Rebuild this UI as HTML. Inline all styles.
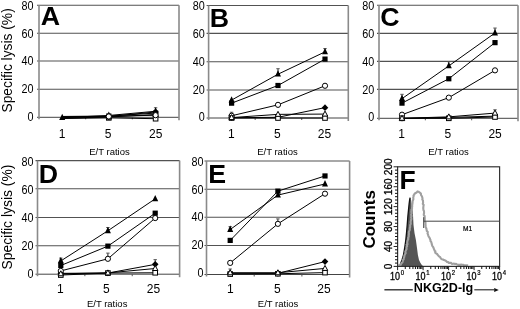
<!DOCTYPE html><html><head><meta charset="utf-8"><style>html,body{margin:0;padding:0;background:#fff;}svg{display:block;filter:blur(0.35px);}</style></head><body>
<svg width="520" height="309" viewBox="0 0 520 309" font-family='"Liberation Sans", sans-serif'>
<rect width="520" height="309" fill="#fff"/>
<line x1="37.00" y1="5.30" x2="179.00" y2="5.30" stroke="#525252" stroke-width="1.1"/>
<line x1="37.00" y1="33.20" x2="179.00" y2="33.20" stroke="#525252" stroke-width="1.1"/>
<line x1="37.00" y1="61.00" x2="179.00" y2="61.00" stroke="#525252" stroke-width="1.1"/>
<line x1="37.00" y1="89.20" x2="179.00" y2="89.20" stroke="#525252" stroke-width="1.1"/>
<line x1="37.00" y1="117.30" x2="179.00" y2="117.30" stroke="#444" stroke-width="1"/>
<line x1="85.67" y1="117.30" x2="85.67" y2="119.30" stroke="#555" stroke-width="1"/>
<line x1="132.33" y1="117.30" x2="132.33" y2="119.30" stroke="#555" stroke-width="1"/>
<line x1="39.00" y1="5.30" x2="39.00" y2="119.30" stroke="#8a8a8a" stroke-width="1.6"/>
<line x1="179.00" y1="5.30" x2="179.00" y2="120.30" stroke="#8a8a8a" stroke-width="1.6"/>
<text transform="translate(33.40,9.65) scale(0.9,1)" font-size="12" text-anchor="end">80</text>
<text transform="translate(33.40,37.50) scale(0.9,1)" font-size="12" text-anchor="end">60</text>
<text transform="translate(33.40,65.35) scale(0.9,1)" font-size="12" text-anchor="end">40</text>
<text transform="translate(33.40,93.20) scale(0.9,1)" font-size="12" text-anchor="end">20</text>
<text transform="translate(33.40,121.05) scale(0.9,1)" font-size="12" text-anchor="end">0</text>
<text x="62.00" y="137.60" font-size="12" text-anchor="middle">1</text>
<text x="108.10" y="137.60" font-size="12" text-anchor="middle">5</text>
<text x="155.70" y="137.60" font-size="12" text-anchor="middle">25</text>
<text x="109.50" y="154.50" font-size="9.5" text-anchor="middle">E/T ratios</text>
<text transform="translate(50.30,25.00) scale(1.07,1)" font-size="25" font-weight="bold" text-anchor="middle">A</text>
<polyline points="62.20,117.72 108.80,115.47 155.60,111.26" fill="none" stroke="#000" stroke-width="1"/>
<polyline points="62.20,116.46 108.80,116.04 155.60,113.08" fill="none" stroke="#000" stroke-width="1"/>
<polyline points="62.20,116.88 108.80,116.46 155.60,115.19" fill="none" stroke="#000" stroke-width="1"/>
<polyline points="62.20,117.02 108.80,116.60 155.60,111.96" fill="none" stroke="#000" stroke-width="1"/>
<polyline points="62.20,118.14 108.80,117.02 155.60,114.49" fill="none" stroke="#000" stroke-width="1"/>
<polyline points="62.20,118.56 108.80,117.86 155.60,118.70" fill="none" stroke="#000" stroke-width="1"/>
<line x1="155.60" y1="111.26" x2="155.60" y2="107.75" stroke="#222" stroke-width="1"/>
<line x1="153.90" y1="107.75" x2="157.30" y2="107.75" stroke="#555" stroke-width="1"/>
<rect x="106.50" y="115.56" width="4.6" height="4.6" fill="#fff" stroke="#000" stroke-width="1"/>
<rect x="153.30" y="116.41" width="4.6" height="4.6" fill="#fff" stroke="#000" stroke-width="1"/>
<path d="M108.80 114.02L106.10 119.02L111.50 119.02Z" fill="#fff" stroke="#000" stroke-width="1"/>
<path d="M155.60 111.49L152.90 116.49L158.30 116.49Z" fill="#fff" stroke="#000" stroke-width="1"/>
<path d="M108.80 113.30L112.10 116.60L108.80 119.90L105.50 116.60Z" fill="#000"/>
<path d="M155.60 108.66L158.90 111.96L155.60 115.26L152.30 111.96Z" fill="#000"/>
<rect x="106.20" y="113.44" width="5.2" height="5.2" fill="#000"/>
<rect x="153.00" y="110.48" width="5.2" height="5.2" fill="#000"/>
<path d="M62.20 113.82L59.20 120.12L65.20 120.12Z" fill="#000"/>
<path d="M108.80 111.57L105.80 117.87L111.80 117.87Z" fill="#000"/>
<path d="M155.60 107.36L152.60 113.66L158.60 113.66Z" fill="#000"/>
<circle cx="108.80" cy="116.46" r="2.6" fill="#fff" stroke="#000" stroke-width="1"/>
<circle cx="155.60" cy="115.19" r="2.6" fill="#fff" stroke="#000" stroke-width="1"/>
<line x1="206.60" y1="5.50" x2="348.30" y2="5.50" stroke="#525252" stroke-width="1.1"/>
<line x1="206.60" y1="33.40" x2="348.30" y2="33.40" stroke="#525252" stroke-width="1.1"/>
<line x1="206.60" y1="61.80" x2="348.30" y2="61.80" stroke="#525252" stroke-width="1.1"/>
<line x1="206.60" y1="90.00" x2="348.30" y2="90.00" stroke="#525252" stroke-width="1.1"/>
<line x1="206.60" y1="118.00" x2="348.30" y2="118.00" stroke="#444" stroke-width="1"/>
<line x1="255.17" y1="118.00" x2="255.17" y2="120.00" stroke="#555" stroke-width="1"/>
<line x1="301.73" y1="118.00" x2="301.73" y2="120.00" stroke="#555" stroke-width="1"/>
<line x1="208.60" y1="5.50" x2="208.60" y2="120.00" stroke="#8a8a8a" stroke-width="1.6"/>
<line x1="348.30" y1="5.50" x2="348.30" y2="121.00" stroke="#8a8a8a" stroke-width="1.6"/>
<text transform="translate(204.80,9.80) scale(0.9,1)" font-size="12" text-anchor="end">80</text>
<text transform="translate(204.80,37.70) scale(0.9,1)" font-size="12" text-anchor="end">60</text>
<text transform="translate(204.80,65.60) scale(0.9,1)" font-size="12" text-anchor="end">40</text>
<text transform="translate(204.80,93.50) scale(0.9,1)" font-size="12" text-anchor="end">20</text>
<text transform="translate(204.80,121.40) scale(0.9,1)" font-size="12" text-anchor="end">0</text>
<text x="231.30" y="137.80" font-size="12" text-anchor="middle">1</text>
<text x="277.30" y="137.80" font-size="12" text-anchor="middle">5</text>
<text x="324.50" y="137.80" font-size="12" text-anchor="middle">25</text>
<text x="277.45" y="154.60" font-size="9.5" text-anchor="middle">E/T ratios</text>
<text transform="translate(219.40,26.80) scale(1.07,1)" font-size="25" font-weight="bold" text-anchor="middle">B</text>
<polyline points="231.60,100.08 278.00,74.21 325.00,51.86" fill="none" stroke="#000" stroke-width="1"/>
<polyline points="231.60,103.16 278.00,85.49 325.00,59.10" fill="none" stroke="#000" stroke-width="1"/>
<polyline points="231.60,115.76 278.00,104.84 325.00,85.77" fill="none" stroke="#000" stroke-width="1"/>
<polyline points="231.60,117.72 278.00,117.30 325.00,107.64" fill="none" stroke="#000" stroke-width="1"/>
<polyline points="231.60,117.58 278.00,114.36 325.00,114.08" fill="none" stroke="#000" stroke-width="1"/>
<polyline points="231.60,118.00 278.00,118.00 325.00,118.00" fill="none" stroke="#000" stroke-width="1"/>
<line x1="278.00" y1="74.21" x2="278.00" y2="68.71" stroke="#222" stroke-width="1"/>
<line x1="276.30" y1="68.71" x2="279.70" y2="68.71" stroke="#555" stroke-width="1"/>
<line x1="325.00" y1="51.86" x2="325.00" y2="48.59" stroke="#222" stroke-width="1"/>
<line x1="323.30" y1="48.59" x2="326.70" y2="48.59" stroke="#555" stroke-width="1"/>
<line x1="231.60" y1="115.76" x2="231.60" y2="112.26" stroke="#222" stroke-width="1"/>
<line x1="229.90" y1="112.26" x2="233.30" y2="112.26" stroke="#555" stroke-width="1"/>
<path d="M231.60 96.18L228.60 102.48L234.60 102.48Z" fill="#000"/>
<path d="M278.00 70.31L275.00 76.61L281.00 76.61Z" fill="#000"/>
<path d="M325.00 47.96L322.00 54.26L328.00 54.26Z" fill="#000"/>
<rect x="229.00" y="100.56" width="5.2" height="5.2" fill="#000"/>
<rect x="275.40" y="82.89" width="5.2" height="5.2" fill="#000"/>
<rect x="322.40" y="56.50" width="5.2" height="5.2" fill="#000"/>
<path d="M231.60 114.42L234.90 117.72L231.60 121.02L228.30 117.72Z" fill="#000"/>
<path d="M278.00 114.00L281.30 117.30L278.00 120.60L274.70 117.30Z" fill="#000"/>
<path d="M325.00 104.34L328.30 107.64L325.00 110.94L321.70 107.64Z" fill="#000"/>
<circle cx="231.60" cy="115.76" r="2.6" fill="#fff" stroke="#000" stroke-width="1"/>
<circle cx="278.00" cy="104.84" r="2.6" fill="#fff" stroke="#000" stroke-width="1"/>
<circle cx="325.00" cy="85.77" r="2.6" fill="#fff" stroke="#000" stroke-width="1"/>
<rect x="229.30" y="115.70" width="4.6" height="4.6" fill="#fff" stroke="#000" stroke-width="1"/>
<rect x="275.70" y="115.70" width="4.6" height="4.6" fill="#fff" stroke="#000" stroke-width="1"/>
<rect x="322.70" y="115.70" width="4.6" height="4.6" fill="#fff" stroke="#000" stroke-width="1"/>
<path d="M231.60 114.58L228.90 119.58L234.30 119.58Z" fill="#fff" stroke="#000" stroke-width="1"/>
<path d="M278.00 111.36L275.30 116.36L280.70 116.36Z" fill="#fff" stroke="#000" stroke-width="1"/>
<path d="M325.00 111.08L322.30 116.08L327.70 116.08Z" fill="#fff" stroke="#000" stroke-width="1"/>
<line x1="377.00" y1="5.30" x2="518.00" y2="5.30" stroke="#525252" stroke-width="1.1"/>
<line x1="377.00" y1="33.40" x2="518.00" y2="33.40" stroke="#525252" stroke-width="1.1"/>
<line x1="377.00" y1="61.40" x2="518.00" y2="61.40" stroke="#525252" stroke-width="1.1"/>
<line x1="377.00" y1="89.40" x2="518.00" y2="89.40" stroke="#525252" stroke-width="1.1"/>
<line x1="377.00" y1="118.30" x2="518.00" y2="118.30" stroke="#444" stroke-width="1"/>
<line x1="425.33" y1="118.30" x2="425.33" y2="120.30" stroke="#555" stroke-width="1"/>
<line x1="471.67" y1="118.30" x2="471.67" y2="120.30" stroke="#555" stroke-width="1"/>
<line x1="379.00" y1="5.30" x2="379.00" y2="120.30" stroke="#8a8a8a" stroke-width="1.6"/>
<line x1="518.00" y1="5.30" x2="518.00" y2="121.30" stroke="#8a8a8a" stroke-width="1.6"/>
<text transform="translate(374.30,9.80) scale(0.9,1)" font-size="12" text-anchor="end">80</text>
<text transform="translate(374.30,37.70) scale(0.9,1)" font-size="12" text-anchor="end">60</text>
<text transform="translate(374.30,65.60) scale(0.9,1)" font-size="12" text-anchor="end">40</text>
<text transform="translate(374.30,93.50) scale(0.9,1)" font-size="12" text-anchor="end">20</text>
<text transform="translate(374.30,121.40) scale(0.9,1)" font-size="12" text-anchor="end">0</text>
<text x="401.50" y="137.80" font-size="12" text-anchor="middle">1</text>
<text x="447.90" y="137.80" font-size="12" text-anchor="middle">5</text>
<text x="495.10" y="137.80" font-size="12" text-anchor="middle">25</text>
<text x="448.50" y="154.50" font-size="9.5" text-anchor="middle">E/T ratios</text>
<text transform="translate(389.90,26.40) scale(1.07,1)" font-size="25" font-weight="bold" text-anchor="middle">C</text>
<polyline points="402.00,98.65 448.80,65.88 495.00,32.98" fill="none" stroke="#000" stroke-width="1"/>
<polyline points="402.00,103.13 448.80,78.76 495.00,42.64" fill="none" stroke="#000" stroke-width="1"/>
<polyline points="402.00,114.69 448.80,97.64 495.00,70.36" fill="none" stroke="#000" stroke-width="1"/>
<polyline points="402.00,118.30 448.80,117.43 495.00,116.13" fill="none" stroke="#000" stroke-width="1"/>
<polyline points="402.00,118.30 448.80,116.86 495.00,113.10" fill="none" stroke="#000" stroke-width="1"/>
<polyline points="402.00,118.30 448.80,118.30 495.00,117.00" fill="none" stroke="#000" stroke-width="1"/>
<line x1="402.00" y1="98.65" x2="402.00" y2="94.31" stroke="#222" stroke-width="1"/>
<line x1="400.30" y1="94.31" x2="403.70" y2="94.31" stroke="#555" stroke-width="1"/>
<line x1="448.80" y1="65.88" x2="448.80" y2="61.68" stroke="#222" stroke-width="1"/>
<line x1="447.10" y1="61.68" x2="450.50" y2="61.68" stroke="#555" stroke-width="1"/>
<line x1="495.00" y1="32.98" x2="495.00" y2="28.06" stroke="#222" stroke-width="1"/>
<line x1="493.30" y1="28.06" x2="496.70" y2="28.06" stroke="#555" stroke-width="1"/>
<line x1="495.00" y1="113.10" x2="495.00" y2="109.77" stroke="#222" stroke-width="1"/>
<line x1="493.30" y1="109.77" x2="496.70" y2="109.77" stroke="#555" stroke-width="1"/>
<path d="M402.00 94.75L399.00 101.05L405.00 101.05Z" fill="#000"/>
<path d="M448.80 61.98L445.80 68.28L451.80 68.28Z" fill="#000"/>
<path d="M495.00 29.08L492.00 35.38L498.00 35.38Z" fill="#000"/>
<rect x="399.40" y="100.53" width="5.2" height="5.2" fill="#000"/>
<rect x="446.20" y="76.16" width="5.2" height="5.2" fill="#000"/>
<rect x="492.40" y="40.04" width="5.2" height="5.2" fill="#000"/>
<path d="M402.00 115.00L405.30 118.30L402.00 121.60L398.70 118.30Z" fill="#000"/>
<path d="M448.80 114.13L452.10 117.43L448.80 120.73L445.50 117.43Z" fill="#000"/>
<path d="M495.00 112.83L498.30 116.13L495.00 119.43L491.70 116.13Z" fill="#000"/>
<circle cx="402.00" cy="114.69" r="2.6" fill="#fff" stroke="#000" stroke-width="1"/>
<circle cx="448.80" cy="97.64" r="2.6" fill="#fff" stroke="#000" stroke-width="1"/>
<circle cx="495.00" cy="70.36" r="2.6" fill="#fff" stroke="#000" stroke-width="1"/>
<rect x="399.70" y="116.00" width="4.6" height="4.6" fill="#fff" stroke="#000" stroke-width="1"/>
<rect x="446.50" y="116.00" width="4.6" height="4.6" fill="#fff" stroke="#000" stroke-width="1"/>
<rect x="492.70" y="114.70" width="4.6" height="4.6" fill="#fff" stroke="#000" stroke-width="1"/>
<path d="M402.00 115.30L399.30 120.30L404.70 120.30Z" fill="#fff" stroke="#000" stroke-width="1"/>
<path d="M448.80 113.86L446.10 118.86L451.50 118.86Z" fill="#fff" stroke="#000" stroke-width="1"/>
<path d="M495.00 110.10L492.30 115.10L497.70 115.10Z" fill="#fff" stroke="#000" stroke-width="1"/>
<line x1="35.50" y1="160.60" x2="179.60" y2="160.60" stroke="#525252" stroke-width="1.1"/>
<line x1="35.50" y1="188.80" x2="179.60" y2="188.80" stroke="#525252" stroke-width="1.1"/>
<line x1="35.50" y1="217.50" x2="179.60" y2="217.50" stroke="#525252" stroke-width="1.1"/>
<line x1="35.50" y1="245.70" x2="179.60" y2="245.70" stroke="#525252" stroke-width="1.1"/>
<line x1="35.50" y1="274.20" x2="179.60" y2="274.20" stroke="#444" stroke-width="1"/>
<line x1="84.87" y1="274.20" x2="84.87" y2="276.20" stroke="#555" stroke-width="1"/>
<line x1="132.23" y1="274.20" x2="132.23" y2="276.20" stroke="#555" stroke-width="1"/>
<line x1="37.50" y1="160.60" x2="37.50" y2="276.20" stroke="#8a8a8a" stroke-width="1.6"/>
<line x1="179.60" y1="160.60" x2="179.60" y2="277.20" stroke="#8a8a8a" stroke-width="1.6"/>
<text transform="translate(33.40,166.20) scale(0.9,1)" font-size="12" text-anchor="end">80</text>
<text transform="translate(33.40,194.10) scale(0.9,1)" font-size="12" text-anchor="end">60</text>
<text transform="translate(33.40,222.00) scale(0.9,1)" font-size="12" text-anchor="end">40</text>
<text transform="translate(33.40,249.90) scale(0.9,1)" font-size="12" text-anchor="end">20</text>
<text transform="translate(33.40,277.80) scale(0.9,1)" font-size="12" text-anchor="end">0</text>
<text x="60.40" y="292.80" font-size="12" text-anchor="middle">1</text>
<text x="106.40" y="292.80" font-size="12" text-anchor="middle">5</text>
<text x="153.40" y="292.80" font-size="12" text-anchor="middle">25</text>
<text x="107.15" y="306.90" font-size="9.5" text-anchor="middle">E/T ratios</text>
<text transform="translate(48.50,182.50) scale(1.07,1)" font-size="25" font-weight="bold" text-anchor="middle">D</text>
<polyline points="60.80,260.95 107.90,230.75 155.20,198.84" fill="none" stroke="#000" stroke-width="1"/>
<polyline points="60.80,265.51 107.90,246.13 155.20,213.19" fill="none" stroke="#000" stroke-width="1"/>
<polyline points="60.80,270.92 107.90,258.81 155.20,218.06" fill="none" stroke="#000" stroke-width="1"/>
<polyline points="60.80,273.34 107.90,273.06 155.20,264.37" fill="none" stroke="#000" stroke-width="1"/>
<polyline points="60.80,273.77 107.90,272.92 155.20,268.50" fill="none" stroke="#000" stroke-width="1"/>
<polyline points="60.80,275.06 107.90,273.06 155.20,272.77" fill="none" stroke="#000" stroke-width="1"/>
<line x1="60.80" y1="260.95" x2="60.80" y2="258.10" stroke="#222" stroke-width="1"/>
<line x1="59.10" y1="258.10" x2="62.50" y2="258.10" stroke="#555" stroke-width="1"/>
<line x1="107.90" y1="230.75" x2="107.90" y2="227.51" stroke="#222" stroke-width="1"/>
<line x1="106.20" y1="227.51" x2="109.60" y2="227.51" stroke="#555" stroke-width="1"/>
<line x1="107.90" y1="258.81" x2="107.90" y2="253.11" stroke="#222" stroke-width="1"/>
<line x1="106.20" y1="253.11" x2="109.60" y2="253.11" stroke="#555" stroke-width="1"/>
<line x1="155.20" y1="264.37" x2="155.20" y2="259.66" stroke="#222" stroke-width="1"/>
<line x1="153.50" y1="259.66" x2="156.90" y2="259.66" stroke="#555" stroke-width="1"/>
<path d="M60.80 257.05L57.80 263.35L63.80 263.35Z" fill="#000"/>
<path d="M107.90 226.85L104.90 233.15L110.90 233.15Z" fill="#000"/>
<path d="M155.20 194.94L152.20 201.25L158.20 201.25Z" fill="#000"/>
<rect x="58.20" y="262.91" width="5.2" height="5.2" fill="#000"/>
<rect x="105.30" y="243.53" width="5.2" height="5.2" fill="#000"/>
<rect x="152.60" y="210.59" width="5.2" height="5.2" fill="#000"/>
<path d="M60.80 270.04L64.10 273.34L60.80 276.64L57.50 273.34Z" fill="#000"/>
<path d="M107.90 269.76L111.20 273.06L107.90 276.36L104.60 273.06Z" fill="#000"/>
<path d="M155.20 261.07L158.50 264.37L155.20 267.67L151.90 264.37Z" fill="#000"/>
<circle cx="60.80" cy="270.92" r="2.6" fill="#fff" stroke="#000" stroke-width="1"/>
<circle cx="107.90" cy="258.81" r="2.6" fill="#fff" stroke="#000" stroke-width="1"/>
<circle cx="155.20" cy="218.06" r="2.6" fill="#fff" stroke="#000" stroke-width="1"/>
<rect x="58.50" y="272.75" width="4.6" height="4.6" fill="#fff" stroke="#000" stroke-width="1"/>
<rect x="105.60" y="270.76" width="4.6" height="4.6" fill="#fff" stroke="#000" stroke-width="1"/>
<rect x="152.90" y="270.47" width="4.6" height="4.6" fill="#fff" stroke="#000" stroke-width="1"/>
<path d="M60.80 270.77L58.10 275.77L63.50 275.77Z" fill="#fff" stroke="#000" stroke-width="1"/>
<path d="M107.90 269.92L105.20 274.92L110.60 274.92Z" fill="#fff" stroke="#000" stroke-width="1"/>
<path d="M155.20 265.50L152.50 270.50L157.90 270.50Z" fill="#fff" stroke="#000" stroke-width="1"/>
<line x1="204.50" y1="161.00" x2="349.60" y2="161.00" stroke="#525252" stroke-width="1.1"/>
<line x1="204.50" y1="189.20" x2="349.60" y2="189.20" stroke="#525252" stroke-width="1.1"/>
<line x1="204.50" y1="217.20" x2="349.60" y2="217.20" stroke="#525252" stroke-width="1.1"/>
<line x1="204.50" y1="245.50" x2="349.60" y2="245.50" stroke="#525252" stroke-width="1.1"/>
<line x1="204.50" y1="274.50" x2="349.60" y2="274.50" stroke="#444" stroke-width="1"/>
<line x1="254.20" y1="274.50" x2="254.20" y2="276.50" stroke="#555" stroke-width="1"/>
<line x1="301.90" y1="274.50" x2="301.90" y2="276.50" stroke="#555" stroke-width="1"/>
<line x1="206.50" y1="161.00" x2="206.50" y2="276.50" stroke="#8a8a8a" stroke-width="1.6"/>
<line x1="349.60" y1="161.00" x2="349.60" y2="277.50" stroke="#8a8a8a" stroke-width="1.6"/>
<text transform="translate(203.40,165.65) scale(0.9,1)" font-size="12" text-anchor="end">80</text>
<text transform="translate(203.40,193.50) scale(0.9,1)" font-size="12" text-anchor="end">60</text>
<text transform="translate(203.40,221.35) scale(0.9,1)" font-size="12" text-anchor="end">40</text>
<text transform="translate(203.40,249.20) scale(0.9,1)" font-size="12" text-anchor="end">20</text>
<text transform="translate(203.40,277.05) scale(0.9,1)" font-size="12" text-anchor="end">0</text>
<text x="230.40" y="292.80" font-size="12" text-anchor="middle">1</text>
<text x="277.30" y="292.80" font-size="12" text-anchor="middle">5</text>
<text x="323.90" y="292.80" font-size="12" text-anchor="middle">25</text>
<text x="278.05" y="306.90" font-size="9.5" text-anchor="middle">E/T ratios</text>
<text transform="translate(217.20,183.00) scale(1.07,1)" font-size="25" font-weight="bold" text-anchor="middle">E</text>
<polyline points="230.20,229.51 277.90,195.08 325.00,183.98" fill="none" stroke="#000" stroke-width="1"/>
<polyline points="230.20,240.41 277.90,191.16 325.00,175.95" fill="none" stroke="#000" stroke-width="1"/>
<polyline points="230.20,262.90 277.90,223.85 325.00,193.68" fill="none" stroke="#000" stroke-width="1"/>
<polyline points="230.20,273.34 277.90,273.34 325.00,261.60" fill="none" stroke="#000" stroke-width="1"/>
<polyline points="230.20,272.76 277.90,272.76 325.00,268.41" fill="none" stroke="#000" stroke-width="1"/>
<polyline points="230.20,274.06 277.90,273.77 325.00,272.62" fill="none" stroke="#000" stroke-width="1"/>
<line x1="230.20" y1="229.51" x2="230.20" y2="226.68" stroke="#222" stroke-width="1"/>
<line x1="228.50" y1="226.68" x2="231.90" y2="226.68" stroke="#555" stroke-width="1"/>
<line x1="277.90" y1="223.85" x2="277.90" y2="218.90" stroke="#222" stroke-width="1"/>
<line x1="276.20" y1="218.90" x2="279.60" y2="218.90" stroke="#555" stroke-width="1"/>
<line x1="230.20" y1="272.76" x2="230.20" y2="268.99" stroke="#222" stroke-width="1"/>
<line x1="228.50" y1="268.99" x2="231.90" y2="268.99" stroke="#555" stroke-width="1"/>
<path d="M230.20 225.61L227.20 231.91L233.20 231.91Z" fill="#000"/>
<path d="M277.90 191.18L274.90 197.48L280.90 197.48Z" fill="#000"/>
<path d="M325.00 180.08L322.00 186.38L328.00 186.38Z" fill="#000"/>
<rect x="227.60" y="237.81" width="5.2" height="5.2" fill="#000"/>
<rect x="275.30" y="188.56" width="5.2" height="5.2" fill="#000"/>
<rect x="322.40" y="173.35" width="5.2" height="5.2" fill="#000"/>
<path d="M230.20 270.04L233.50 273.34L230.20 276.64L226.90 273.34Z" fill="#000"/>
<path d="M277.90 270.04L281.20 273.34L277.90 276.64L274.60 273.34Z" fill="#000"/>
<path d="M325.00 258.30L328.30 261.60L325.00 264.90L321.70 261.60Z" fill="#000"/>
<circle cx="230.20" cy="262.90" r="2.6" fill="#fff" stroke="#000" stroke-width="1"/>
<circle cx="277.90" cy="223.85" r="2.6" fill="#fff" stroke="#000" stroke-width="1"/>
<circle cx="325.00" cy="193.68" r="2.6" fill="#fff" stroke="#000" stroke-width="1"/>
<rect x="227.90" y="271.76" width="4.6" height="4.6" fill="#fff" stroke="#000" stroke-width="1"/>
<rect x="275.60" y="271.47" width="4.6" height="4.6" fill="#fff" stroke="#000" stroke-width="1"/>
<rect x="322.70" y="270.31" width="4.6" height="4.6" fill="#fff" stroke="#000" stroke-width="1"/>
<path d="M230.20 269.76L227.50 274.76L232.90 274.76Z" fill="#fff" stroke="#000" stroke-width="1"/>
<path d="M277.90 269.76L275.20 274.76L280.60 274.76Z" fill="#fff" stroke="#000" stroke-width="1"/>
<path d="M325.00 265.41L322.30 270.41L327.70 270.41Z" fill="#fff" stroke="#000" stroke-width="1"/>
<text transform="translate(11.7,60.4) rotate(-90)" font-size="13.8" text-anchor="middle">Specific lysis (%)</text>
<text transform="translate(11.6,217.1) rotate(-90)" font-size="13.9" text-anchor="middle">Specific lysis (%)</text>
<path d="M399.5 266.2 L400.6 263.5 L402.0 260.0 L403.5 255.0 L404.8 247.0 L405.8 240.0 L406.6 232.0 L407.2 225.0 L407.9 216.0 L408.5 210.0 L409.1 204.0 L409.6 200.0 L410.1 197.6 L410.8 199.5 L411.6 204.0 L412.4 209.0 L412.9 213.0 L413.5 225.0 L414.5 233.0 L415.9 240.0 L417.0 248.0 L417.9 255.0 L419.0 260.0 L420.5 263.0 L422.0 265.2 L423.5 266.2Z" fill="#555555" stroke="none"/>
<path d="M399.5 266.2 L400.6 263.5 L402.0 260.0 L403.5 255.0 L404.8 247.0 L405.8 240.0 L406.6 232.0 L407.2 225.0 L407.9 216.0 L408.5 210.0 L409.1 204.0 L409.6 200.0 L410.1 197.6" fill="none" stroke="#111" stroke-width="1.3"/>
<path d="M398.4 265.7 L399.4 265.1 L400.6 265.1 L401.2 263.6 L402.5 262.3 L402.8 261.2 L403.0 260.0 L403.8 259.0 L403.7 257.9 L404.3 257.0 L404.3 255.9 L404.6 254.9 L405.1 254.0 L405.7 253.1 L405.3 251.9 L405.6 251.0 L406.1 250.0 L406.6 249.1 L406.5 248.0 L406.5 247.0 L407.2 246.1 L406.6 244.9 L407.5 244.1 L407.2 243.0 L407.3 241.9 L407.5 240.9 L407.8 240.0 L408.4 239.0 L408.0 238.0 L408.6 237.0 L408.8 236.0 L408.7 235.0 L409.0 234.0 L408.8 232.9 L408.9 231.9 L409.2 231.0 L409.8 230.0 L409.8 229.0 L409.8 228.0 L410.2 227.0 L410.2 226.0 L410.2 225.0 L410.8 224.0 L410.8 223.0 L410.6 222.0 L410.9 221.0 L411.0 220.0 L411.4 219.0 L411.3 218.0 L411.0 217.0 L411.7 216.0 L411.0 215.0 L411.3 214.0 L411.7 213.0 L411.2 212.0 L411.6 211.0 L411.3 210.0 L411.9 209.0 L412.1 208.0 L412.0 207.0 L412.3 206.0 L412.0 205.0 L412.4 204.0 L412.5 203.0 L412.6 202.0 L412.6 201.0 L413.1 200.1 L413.4 198.9 L413.2 197.7 L413.6 196.5 L413.5 195.4 L414.3 194.6 L414.6 193.6 L415.6 193.0 L416.7 192.5 L417.5 191.4 L418.5 191.7 L419.4 192.3 L420.9 193.6 L421.0 195.0 L421.8 196.1 L422.2 197.2 L422.5 198.3 L422.3 199.5 L423.0 200.6 L423.0 201.7 L423.1 202.8 L422.8 203.9 L423.7 205.0 L423.4 206.0 L423.4 207.0 L423.2 208.0 L423.4 209.0 L423.4 210.0 L424.0 211.0 L424.0 212.0 L424.1 213.0 L423.8 214.0 L423.8 215.0 L424.6 216.0 L424.7 217.0 L424.7 218.0 L424.8 219.0 L424.7 220.0 L424.7 221.0 L425.2 222.0 L425.6 222.9 L425.4 224.0 L425.6 225.0 L425.6 226.0 L425.6 227.1 L426.1 228.0 L426.5 229.0 L426.6 230.0 L426.9 231.1 L427.8 232.0 L427.5 233.4 L428.0 234.5 L428.3 235.6 L428.7 236.7 L429.5 237.7 L429.9 238.8 L430.5 239.9 L430.4 241.0 L431.2 241.9 L431.5 242.9 L431.7 243.9 L432.0 244.9 L432.3 245.9 L433.0 246.8 L433.5 247.8 L433.8 248.8 L434.3 249.7 L434.6 250.7 L435.4 251.4 L435.2 252.7 L436.1 253.4 L437.1 254.0 L437.7 254.8 L438.4 255.7 L439.3 256.6 L440.2 257.2 L440.8 258.4 L441.8 259.2 L443.0 259.5 L444.0 260.1 L445.2 260.4 L446.2 261.1 L447.0 261.9 L448.1 262.1 L448.9 262.9 L450.1 262.7 L451.1 262.9 L451.9 264.0 L453.0 263.8 L454.1 263.6 L455.0 264.1 L456.1 263.8 L457.0 264.4 L458.0 264.9 L459.0 264.9 L460.0 264.9 L461.0 264.6 L462.0 264.8 L463.0 264.7 L464.0 265.4 L465.0 265.3 L466.0 265.6 L467.0 265.3 L468.0 265.6" fill="none" stroke="#a0a0a0" stroke-width="2.1" stroke-linejoin="round"/>
<rect x="397.60" y="166.80" width="102.00" height="99.60" fill="none" stroke="#333" stroke-width="1.2"/>
<line x1="393.60" y1="266.40" x2="397.60" y2="266.40" stroke="#222" stroke-width="1"/>
<line x1="395.00" y1="263.08" x2="397.60" y2="263.08" stroke="#111" stroke-width="1"/>
<line x1="395.00" y1="259.76" x2="397.60" y2="259.76" stroke="#111" stroke-width="1"/>
<line x1="395.00" y1="256.44" x2="397.60" y2="256.44" stroke="#111" stroke-width="1"/>
<line x1="395.00" y1="253.12" x2="397.60" y2="253.12" stroke="#111" stroke-width="1"/>
<line x1="395.00" y1="249.80" x2="397.60" y2="249.80" stroke="#111" stroke-width="1"/>
<text transform="translate(391.9,266.40) rotate(-90)" font-size="10" stroke="#000" stroke-width="0.3" text-anchor="middle">0</text>
<line x1="393.60" y1="246.48" x2="397.60" y2="246.48" stroke="#222" stroke-width="1"/>
<line x1="395.00" y1="243.16" x2="397.60" y2="243.16" stroke="#111" stroke-width="1"/>
<line x1="395.00" y1="239.84" x2="397.60" y2="239.84" stroke="#111" stroke-width="1"/>
<line x1="395.00" y1="236.52" x2="397.60" y2="236.52" stroke="#111" stroke-width="1"/>
<line x1="395.00" y1="233.20" x2="397.60" y2="233.20" stroke="#111" stroke-width="1"/>
<line x1="395.00" y1="229.88" x2="397.60" y2="229.88" stroke="#111" stroke-width="1"/>
<text transform="translate(391.9,246.48) rotate(-90)" font-size="10" stroke="#000" stroke-width="0.3" text-anchor="middle">40</text>
<line x1="393.60" y1="226.56" x2="397.60" y2="226.56" stroke="#222" stroke-width="1"/>
<line x1="395.00" y1="223.24" x2="397.60" y2="223.24" stroke="#111" stroke-width="1"/>
<line x1="395.00" y1="219.92" x2="397.60" y2="219.92" stroke="#111" stroke-width="1"/>
<line x1="395.00" y1="216.60" x2="397.60" y2="216.60" stroke="#111" stroke-width="1"/>
<line x1="395.00" y1="213.28" x2="397.60" y2="213.28" stroke="#111" stroke-width="1"/>
<line x1="395.00" y1="209.96" x2="397.60" y2="209.96" stroke="#111" stroke-width="1"/>
<text transform="translate(391.9,226.56) rotate(-90)" font-size="10" stroke="#000" stroke-width="0.3" text-anchor="middle">80</text>
<line x1="393.60" y1="206.64" x2="397.60" y2="206.64" stroke="#222" stroke-width="1"/>
<line x1="395.00" y1="203.32" x2="397.60" y2="203.32" stroke="#111" stroke-width="1"/>
<line x1="395.00" y1="200.00" x2="397.60" y2="200.00" stroke="#111" stroke-width="1"/>
<line x1="395.00" y1="196.68" x2="397.60" y2="196.68" stroke="#111" stroke-width="1"/>
<line x1="395.00" y1="193.36" x2="397.60" y2="193.36" stroke="#111" stroke-width="1"/>
<line x1="395.00" y1="190.04" x2="397.60" y2="190.04" stroke="#111" stroke-width="1"/>
<text transform="translate(391.9,206.64) rotate(-90)" font-size="10" stroke="#000" stroke-width="0.3" text-anchor="middle">120</text>
<line x1="393.60" y1="186.72" x2="397.60" y2="186.72" stroke="#222" stroke-width="1"/>
<line x1="395.00" y1="183.40" x2="397.60" y2="183.40" stroke="#111" stroke-width="1"/>
<line x1="395.00" y1="180.08" x2="397.60" y2="180.08" stroke="#111" stroke-width="1"/>
<line x1="395.00" y1="176.76" x2="397.60" y2="176.76" stroke="#111" stroke-width="1"/>
<line x1="395.00" y1="173.44" x2="397.60" y2="173.44" stroke="#111" stroke-width="1"/>
<line x1="395.00" y1="170.12" x2="397.60" y2="170.12" stroke="#111" stroke-width="1"/>
<text transform="translate(391.9,186.72) rotate(-90)" font-size="10" stroke="#000" stroke-width="0.3" text-anchor="middle">160</text>
<line x1="393.60" y1="166.80" x2="397.60" y2="166.80" stroke="#222" stroke-width="1"/>
<text transform="translate(391.9,166.80) rotate(-90)" font-size="10" stroke="#000" stroke-width="0.3" text-anchor="middle">200</text>
<line x1="397.60" y1="266.40" x2="397.60" y2="270.20" stroke="#222" stroke-width="1"/>
<line x1="405.28" y1="266.40" x2="405.28" y2="269.00" stroke="#111" stroke-width="1"/>
<line x1="409.77" y1="266.40" x2="409.77" y2="269.00" stroke="#111" stroke-width="1"/>
<line x1="412.95" y1="266.40" x2="412.95" y2="269.00" stroke="#111" stroke-width="1"/>
<line x1="415.42" y1="266.40" x2="415.42" y2="269.00" stroke="#111" stroke-width="1"/>
<line x1="417.44" y1="266.40" x2="417.44" y2="269.00" stroke="#111" stroke-width="1"/>
<line x1="419.15" y1="266.40" x2="419.15" y2="269.00" stroke="#111" stroke-width="1"/>
<line x1="420.63" y1="266.40" x2="420.63" y2="269.00" stroke="#111" stroke-width="1"/>
<line x1="421.93" y1="266.40" x2="421.93" y2="269.00" stroke="#111" stroke-width="1"/>
<text x="0.00" y="279.6" font-size="10" stroke="#000" stroke-width="0.3" text-anchor="end" transform="translate(400.00,0) scale(0.9,1)">10</text>
<text x="0.00" y="274.6" font-size="7" stroke="#000" stroke-width="0.25" transform="translate(400.70,0) scale(0.85,1)">0</text>
<line x1="423.10" y1="266.40" x2="423.10" y2="270.20" stroke="#222" stroke-width="1"/>
<line x1="430.78" y1="266.40" x2="430.78" y2="269.00" stroke="#111" stroke-width="1"/>
<line x1="435.27" y1="266.40" x2="435.27" y2="269.00" stroke="#111" stroke-width="1"/>
<line x1="438.45" y1="266.40" x2="438.45" y2="269.00" stroke="#111" stroke-width="1"/>
<line x1="440.92" y1="266.40" x2="440.92" y2="269.00" stroke="#111" stroke-width="1"/>
<line x1="442.94" y1="266.40" x2="442.94" y2="269.00" stroke="#111" stroke-width="1"/>
<line x1="444.65" y1="266.40" x2="444.65" y2="269.00" stroke="#111" stroke-width="1"/>
<line x1="446.13" y1="266.40" x2="446.13" y2="269.00" stroke="#111" stroke-width="1"/>
<line x1="447.43" y1="266.40" x2="447.43" y2="269.00" stroke="#111" stroke-width="1"/>
<text x="0.00" y="279.6" font-size="10" stroke="#000" stroke-width="0.3" text-anchor="end" transform="translate(425.50,0) scale(0.9,1)">10</text>
<text x="0.00" y="274.6" font-size="7" stroke="#000" stroke-width="0.25" transform="translate(426.20,0) scale(0.85,1)">1</text>
<line x1="448.60" y1="266.40" x2="448.60" y2="270.20" stroke="#222" stroke-width="1"/>
<line x1="456.28" y1="266.40" x2="456.28" y2="269.00" stroke="#111" stroke-width="1"/>
<line x1="460.77" y1="266.40" x2="460.77" y2="269.00" stroke="#111" stroke-width="1"/>
<line x1="463.95" y1="266.40" x2="463.95" y2="269.00" stroke="#111" stroke-width="1"/>
<line x1="466.42" y1="266.40" x2="466.42" y2="269.00" stroke="#111" stroke-width="1"/>
<line x1="468.44" y1="266.40" x2="468.44" y2="269.00" stroke="#111" stroke-width="1"/>
<line x1="470.15" y1="266.40" x2="470.15" y2="269.00" stroke="#111" stroke-width="1"/>
<line x1="471.63" y1="266.40" x2="471.63" y2="269.00" stroke="#111" stroke-width="1"/>
<line x1="472.93" y1="266.40" x2="472.93" y2="269.00" stroke="#111" stroke-width="1"/>
<text x="0.00" y="279.6" font-size="10" stroke="#000" stroke-width="0.3" text-anchor="end" transform="translate(451.00,0) scale(0.9,1)">10</text>
<text x="0.00" y="274.6" font-size="7" stroke="#000" stroke-width="0.25" transform="translate(451.70,0) scale(0.85,1)">2</text>
<line x1="474.10" y1="266.40" x2="474.10" y2="270.20" stroke="#222" stroke-width="1"/>
<line x1="481.78" y1="266.40" x2="481.78" y2="269.00" stroke="#111" stroke-width="1"/>
<line x1="486.27" y1="266.40" x2="486.27" y2="269.00" stroke="#111" stroke-width="1"/>
<line x1="489.45" y1="266.40" x2="489.45" y2="269.00" stroke="#111" stroke-width="1"/>
<line x1="491.92" y1="266.40" x2="491.92" y2="269.00" stroke="#111" stroke-width="1"/>
<line x1="493.94" y1="266.40" x2="493.94" y2="269.00" stroke="#111" stroke-width="1"/>
<line x1="495.65" y1="266.40" x2="495.65" y2="269.00" stroke="#111" stroke-width="1"/>
<line x1="497.13" y1="266.40" x2="497.13" y2="269.00" stroke="#111" stroke-width="1"/>
<line x1="498.43" y1="266.40" x2="498.43" y2="269.00" stroke="#111" stroke-width="1"/>
<text x="0.00" y="279.6" font-size="10" stroke="#000" stroke-width="0.3" text-anchor="end" transform="translate(476.50,0) scale(0.9,1)">10</text>
<text x="0.00" y="274.6" font-size="7" stroke="#000" stroke-width="0.25" transform="translate(477.20,0) scale(0.85,1)">3</text>
<line x1="499.60" y1="266.40" x2="499.60" y2="270.20" stroke="#222" stroke-width="1"/>
<text x="0.00" y="279.6" font-size="10" stroke="#000" stroke-width="0.3" text-anchor="end" transform="translate(502.00,0) scale(0.9,1)">10</text>
<text x="0.00" y="274.6" font-size="7" stroke="#000" stroke-width="0.25" transform="translate(502.70,0) scale(0.85,1)">4</text>
<line x1="423.7" y1="221.2" x2="499.60" y2="221.2" stroke="#444" stroke-width="1"/>
<line x1="423.7" y1="217.2" x2="423.7" y2="228" stroke="#444" stroke-width="1"/>
<text x="463" y="230.5" font-size="6.6" stroke="#000" stroke-width="0.2">M1</text>
<text transform="translate(407.60,189.00) scale(1.06,1)" font-size="25" font-weight="bold" text-anchor="middle">F</text>
<text transform="translate(375.2,219.3) rotate(-90)" font-size="17" font-weight="bold" text-anchor="middle">Counts</text>
<text x="413.8" y="292.4" font-size="12.6" font-weight="bold">NKG2D-Ig</text>
<line x1="384.4" y1="289.8" x2="412.8" y2="289.8" stroke="#222" stroke-width="1.3"/>
<line x1="474.3" y1="289.8" x2="494" y2="289.8" stroke="#222" stroke-width="1.1"/>
<path d="M498.8 289.9 L494.2 287.9 L494.2 291.9Z" fill="#111"/>
</svg></body></html>
